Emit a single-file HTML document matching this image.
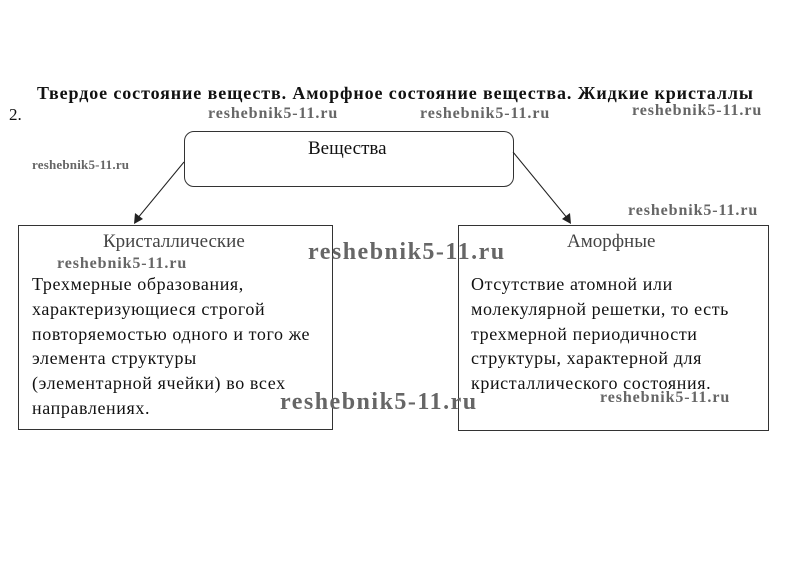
<!DOCTYPE html>
<html><head><meta charset="utf-8"><style>
body{margin:0;width:802px;height:567px;background:#fff;position:relative;overflow:hidden;font-family:"Liberation Serif",serif;color:#111}
.a{position:absolute;white-space:nowrap}
.w{position:absolute;white-space:nowrap;font-weight:bold;color:#666;font-family:"Liberation Serif",serif;letter-spacing:0.9px}
.b{position:absolute;border:1px solid #333;background:#fff}
.t{font-size:18px;line-height:24.8px;letter-spacing:0.6px}
</style></head><body>
<div class="a" style="left:37px;top:83px;font-size:18px;font-weight:bold;letter-spacing:0.9px">Твердое состояние веществ. Аморфное состояние вещества. Жидкие кристаллы</div>
<div class="a" style="left:9px;top:105px;font-size:17px">2.</div>
<div class="b" style="left:184px;top:131px;width:328px;height:54px;border-radius:10px"></div>
<div class="a" style="left:308px;top:138px;font-size:19px">Вещества</div>
<div class="b" style="left:18px;top:225px;width:313px;height:203px"></div>
<div class="b" style="left:458px;top:225px;width:309px;height:204px"></div>
<svg width="802" height="567" style="position:absolute;left:0;top:0">
<line x1="184" y1="162" x2="137" y2="219" stroke="#222" stroke-width="1"/>
<polygon points="134,224 135,213 143,219" fill="#222"/>
<line x1="513" y1="152" x2="568" y2="219" stroke="#222" stroke-width="1"/>
<polygon points="571,224 562,219 570,213" fill="#222"/>
</svg>
<div class="a" style="left:103px;top:231px;font-size:19px;color:#444">Кристаллические</div>
<div class="a t" style="left:32px;top:272px">Трехмерные образования,<br>характеризующиеся строгой<br>повторяемостью одного и того же<br>элемента структуры<br>(элементарной ячейки) во всех<br>направлениях.</div>
<div class="a" style="left:567px;top:231px;font-size:19px;color:#444">Аморфные</div>
<div class="a t" style="left:471px;top:272px">Отсутствие атомной или<br>молекулярной решетки, то есть<br>трехмерной периодичности<br>структуры, характерной для<br>кристаллического состояния.</div>
<div class="w" style="left:208px;top:105px;font-size:16px">reshebnik5-11.ru</div>
<div class="w" style="left:420px;top:105px;font-size:16px">reshebnik5-11.ru</div>
<div class="w" style="left:632px;top:102px;font-size:16px">reshebnik5-11.ru</div>
<div class="w" style="left:32px;top:157px;font-size:13px;letter-spacing:0.2px">reshebnik5-11.ru</div>
<div class="w" style="left:628px;top:202px;font-size:16px">reshebnik5-11.ru</div>
<div class="w" style="left:57px;top:255px;font-size:16px">reshebnik5-11.ru</div>
<div class="w" style="left:308px;top:239px;font-size:24px;letter-spacing:1.5px">reshebnik5-11.ru</div>
<div class="w" style="left:280px;top:389px;font-size:24px;letter-spacing:1.5px">reshebnik5-11.ru</div>
<div class="w" style="left:600px;top:389px;font-size:16px">reshebnik5-11.ru</div>
</body></html>
